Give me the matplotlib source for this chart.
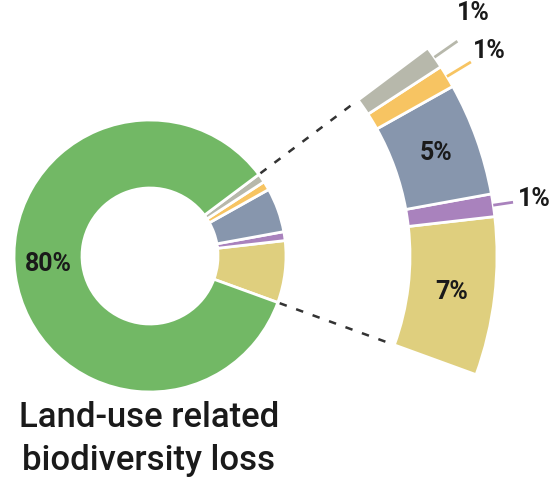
import numpy as np
import matplotlib
matplotlib.use("Agg")
from matplotlib import pyplot as plt

# slices, counter-clockwise from the bottom of the small group
categories = ['yellow', 'purple', 'blue', 'orange', 'gray', 'green']
values = [7, 1, 5, 1, 1, 80]
colors = ['#dfcf7e', '#a982bd', '#8796ad', '#f7c462', '#b7b8ab', '#72b865']
title = "Land-use related\nbiodiversity loss"

plt.rcParams['font.family'] = ['Roboto', 'DejaVu Sans']

fig = plt.figure(figsize=(5.57, 4.78), dpi=100)
ax = fig.add_axes([0, 0, 1, 1])
ax.axis('off')

cx, cy = 150, 222
r_in, w_in = 136, 68      # main donut
r_out, w_out = 347, 87    # blown-up part
start = -20

wedges, _ = ax.pie(values, colors=colors, startangle=start, radius=r_in, center=(cx, cy),
                   counterclock=True, wedgeprops=dict(width=w_in, edgecolor='white', linewidth=2))

big_colors = colors[:-1] + ['none']
big, _ = ax.pie(values, colors=big_colors, startangle=start, radius=r_out, center=(cx, cy),
                counterclock=True, wedgeprops=dict(width=w_out, edgecolor='white', linewidth=2))
big[-1].set_visible(False)
ax.set_xlim(0, 557)
ax.set_ylim(0, 478)
ax.set_aspect('equal')

def pt(r, a):
    a = np.deg2rad(a)
    return cx + r * np.cos(a), cy + r * np.sin(a)

# dashed connectors between the two rings
for a in [wedges[-1].theta1, wedges[0].theta1]:
    x0, y0 = pt(r_in + 2, a)
    x1, y1 = pt(r_out - w_out - 2, a)
    ax.plot([x0, x1], [y0, y1], color='#333333', lw=1.8, ls=(0, (3, 4)))

fs = 18
# (angle shift, label radius, leader length) for the outside labels
nudge = {'gray': (2, 58, 28), 'orange': (0, 50, 28), 'purple': (0, 42, 20)}
for i, (cat, v) in enumerate(zip(categories, values)):
    w = big[i] if cat != 'green' else wedges[i]
    mid = (w.theta1 + w.theta2) / 2
    lab = f"{v}%"
    if cat == 'green':
        x, y = pt(r_in - w_in / 2, mid - 4)
    elif v >= 5:
        x, y = pt(r_out - w_out / 2, mid)
    else:
        da, dr, ln = nudge[cat]
        x0, y0 = pt(r_out, mid)
        x1, y1 = pt(r_out + ln, mid)
        ax.plot([x0, x1], [y0, y1], color=colors[i], lw=2, solid_capstyle='butt')
        x, y = pt(r_out + dr, mid + da)
    ax.text(x, y, lab, ha='center', va='center', fontsize=fs, fontweight='bold', color='#1a1a1a')

ax.text(cx - 1, 39, title, ha='center', va='center', fontsize=25, fontweight='medium',
        color='#1a1a1a', linespacing=1.42)

fig.savefig('out.png', dpi=100)
